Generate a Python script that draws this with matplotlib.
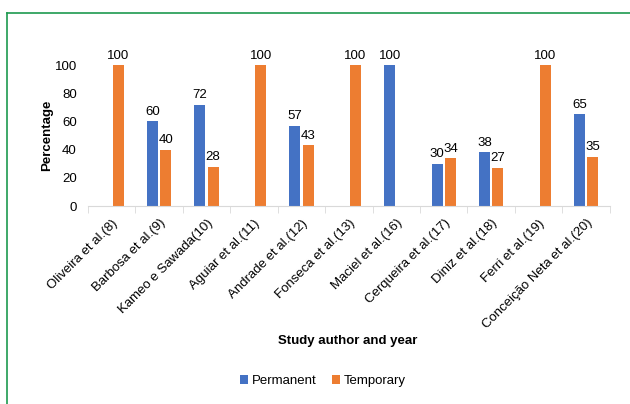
import numpy as np
import matplotlib.pyplot as plt
from matplotlib.lines import Line2D

studies = ['Oliveira et al.(8)', 'Barbosa et al.(9)', 'Kameo e Sawada(10)',
           'Aguiar et al.(11)', 'Andrade et al.(12)', 'Fonseca et al.(13)',
           'Maciel et al.(16)', 'Cerqueira et al.(17)', 'Diniz et al.(18)',
           'Ferri et al.(19)', 'Conceição Neta et al.(20)']
permanent = [0, 60, 72, 0, 57, 0, 100, 30, 38, 0, 65]
temporary = [100, 40, 28, 100, 43, 100, 0, 34, 27, 100, 35]


def main():
    plt.rcParams['font.family'] = ['Liberation Sans', 'DejaVu Sans']
    fig = plt.figure(figsize=(6.3, 4.04), dpi=100)
    ax = fig.add_axes([0.1395, 0.49, 0.8285, 0.349])

    x = np.arange(len(studies))
    w = 0.23
    off = 0.14
    b1 = ax.bar(x - off, permanent, w, color='#4472C4', label='Permanent')
    b2 = ax.bar(x + off, temporary, w, color='#ED7D31', label='Temporary')
    for bars, vals in [(b1, permanent), (b2, temporary)]:
        for b, v in zip(bars, vals):
            if v > 0:
                ax.text(b.get_x() + b.get_width() / 2, v + 2.5, str(v),
                        ha='center', va='bottom', fontsize=9.5)

    ax.set_xlim(-0.5, len(studies) - 0.5)
    ax.set_ylim(0, 100)
    ax.set_yticks(range(0, 101, 20))
    ax.tick_params(axis='y', length=0, labelsize=9.5, pad=8)
    ax.set_xticks(x)
    ax.set_xticklabels(studies, rotation=45, ha='right', rotation_mode='anchor',
                       fontsize=9.5)
    ax.tick_params(axis='x', length=0, pad=8)
    ax.set_xticks(np.arange(len(studies) + 1) - 0.5, minor=True)
    ax.tick_params(axis='x', which='minor', length=5, color='#D9D9D9')
    for s in ['top', 'right', 'left']:
        ax.spines[s].set_visible(False)
    ax.spines['bottom'].set_color('#D9D9D9')
    ax.set_ylabel('Percentage', fontsize=9.5, fontweight='bold', labelpad=1)
    fig.text(348 / 630, 1 - 341 / 404, 'Study author and year', ha='center',
             va='center', fontsize=9.5, fontweight='bold')

    fig.legend(handles=[b1, b2], loc='center', bbox_to_anchor=(323 / 630, 1 - 381 / 404),
               ncol=2, frameon=False, fontsize=9.5, handlelength=0.6, handleheight=0.6,
               handletextpad=0.3, columnspacing=1.2)

    green = '#1E9A4F'
    fig.add_artist(Line2D([7 / 630, 1], [1 - 13 / 404] * 2, color=green, lw=1.2))
    fig.add_artist(Line2D([7 / 630] * 2, [0, 1 - 13 / 404], color=green, lw=1.2))

    fig.savefig('out.png', dpi=100)


if __name__ == "__main__":
    main()
